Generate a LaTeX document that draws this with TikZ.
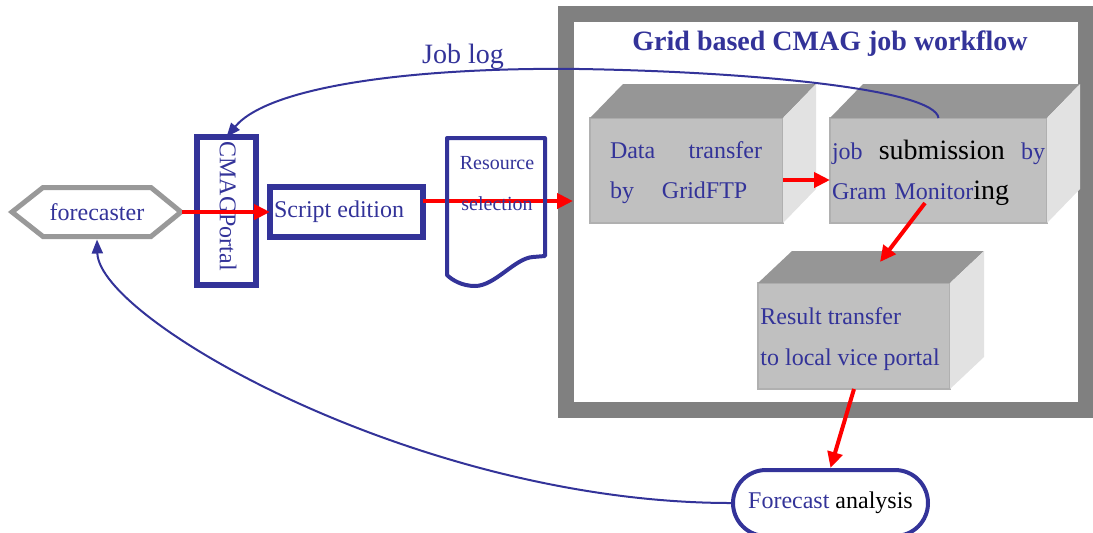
\documentclass[tikz,border=0pt]{standalone}
\usepackage{fontspec}
\setmainfont{Liberation Serif}
\usetikzlibrary{arrows.meta,shapes.misc}
\definecolor{navy}{HTML}{333399}
\definecolor{framegray}{HTML}{808080}
\definecolor{hexgray}{HTML}{999999}
\definecolor{frontc}{HTML}{C0C0C0}
\definecolor{topc}{HTML}{969696}
\definecolor{sidec}{HTML}{E2E2E2}
\definecolor{edgec}{HTML}{B0B0B0}
\newcommand{\fsz}[2]{\fontsize{#1}{#2}\selectfont}
\begin{document}
\begin{tikzpicture}[x=0.5pt,y=-0.5pt,
  redarrow/.style={draw=red, line width=2pt, -{Triangle[length=8pt,width=7.5pt]}},
  bluearrow/.style={draw=navy, line width=1pt, -{Triangle[length=7pt,width=5.5pt]}},
  navybox/.style={draw=navy, line width=3pt, outer sep=0pt},
  front/.style={fill=frontc, draw=edgec, line width=0.75pt, outer sep=0pt, minimum height=52.5pt},
  topface/.style={fill=topc},
  sideface/.style={fill=sidec},
  lbl/.style={text=navy, inner sep=0pt, font=\fsz{12}{20}},
  ghost/.style={inner sep=0pt, outer sep=0pt}]
\useasboundingbox (0,0) rectangle (1093,532);

% workflow frame
\node[draw=framegray, line width=8pt, outer sep=0pt, minimum width=260pt, minimum height=198pt] (frame) at (825.5,212) {};
\node[text=navy, font=\bfseries\fsz{14}{16}] (title) at (830,44) {Grid based CMAG job workflow};

% 3D boxes
\node[front, minimum width=96.5pt] (b1) at (686.5,170.5) {};
\fill[topface] (b1.north west) -- ++(33,-34) -- ++(193,0) -- (b1.north east) -- cycle;
\fill[sideface] (b1.north east) -- ++(33,-34) -- ++(0,105) -- (b1.south east) -- cycle;
\node[lbl, text width=76pt, align=left] (b1t) at (686,173) {\makebox[76pt][s]{Data\hfill transfer}\\by\hspace{14pt}GridFTP};

\node[front, minimum width=108.5pt] (b2) at (938.5,170.5) {};
\fill[topface] (b2.north west) -- ++(33,-34) -- ++(217,0) -- (b2.north east) -- cycle;
\fill[sideface] (b2.north east) -- ++(33,-34) -- ++(0,105) -- (b2.south east) -- cycle;
\node[lbl, text width=106.5pt, align=left] (b2t) at (938.5,173) {\makebox[106.5pt][s]{job\hfill{\color{black}\fsz{14}{20}submission}\hfill by}\\Gram Monitor{\color{black}\fsz{14}{20}ing}};

\node[front, minimum width=96pt, minimum height=53pt] (b3) at (854,336) {};
\fill[topface] (b3.north west) -- ++(34,-32) -- ++(192,0) -- (b3.north east) -- cycle;
\fill[sideface] (b3.north east) -- ++(34,-32) -- ++(0,106) -- (b3.south east) -- cycle;
\node[lbl, anchor=west, align=left, font=\fsz{12}{20.5}] (b3t) at (760,339.5) {Result transfer\\to local vice portal};

% left side nodes
\draw[hexgray, line width=2.5pt, line join=miter] (12,212) -- (43,187.5) -- (151,187.5) -- (181,212) -- (151,236.5) -- (43,236.5) -- cycle;
\node[ghost, minimum width=85pt, minimum height=27.5pt, text=navy, font=\fsz{12}{14}] (fc) at (97,212) {forecaster};

\node[navybox, minimum width=29.5pt, minimum height=74pt] (portal) at (226.5,211) {};
\node[text=navy, rotate=-90, font=\fsz{12}{14}] (portalt) at (228,206) {CMAGPortal};

\node[navybox, minimum width=76.5pt, minimum height=25pt] (script) at (346.5,212) {};
\node[text=navy, font=\fsz{12}{14}] (scriptt) at (339,212) {Script edition};

% red arrows
\draw[redarrow] (fc.east) -- (script.west);
\path ([yshift=5.5pt]script.east) coordinate (s2);
\draw[redarrow, shorten >=-3.75pt] (s2) -- (s2 -| frame.west);

% resource selection document
\node[ghost, minimum width=49pt, minimum height=74pt] (res) at (496,211) {};
\draw[navy, line width=2pt, line join=round] (447,138) -- (545,138) -- (545,256) -- (533,257) .. controls (515,258) and (495,286) .. (475,286) .. controls (462,286) and (452,280) .. (447,275) -- cycle;
\node[text=navy, font=\fsz{10}{12}] (res1) at (497,163) {Resource};
\node[text=navy, font=\fsz{10}{12}] (res2) at (497,204) {selection};

\draw[redarrow] ([yshift=-4.75pt]b1.east) -- ([yshift=-4.75pt]b2.west);
\draw[redarrow] ([shift={(-6.75pt,10pt)}]b2.south) -- ([shift={(13pt,10.5pt)}]b3.north);

% forecast analysis
\node[rounded rectangle, draw=navy, line width=2pt, minimum width=97.5pt, minimum height=33pt, font=\fsz{12}{14}, inner sep=0pt] (fa) at (830.5,503) {\textcolor{navy}{Forecast} analysis};
\draw[redarrow] (b3.south) -- (fa.north);

% blue feedback curves
\draw[bluearrow] (fa.west) .. controls (420,503) and (99,320) .. (fc.south);
\node[text=navy, font=\fsz{14}{16}] (jl) at (463,57) {Job log};
\draw[bluearrow] (b2.north) .. controls (935,90) and (760,72) .. (580,69) .. controls (420,67) and (270,85) .. (portal.north);
\end{tikzpicture}
\end{document}
